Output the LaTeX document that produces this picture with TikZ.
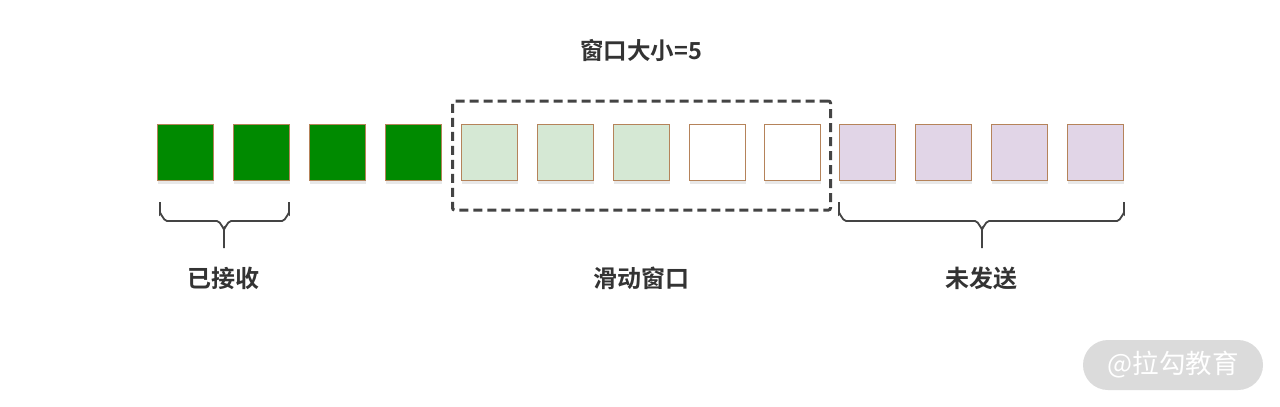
\documentclass[tikz,border=0pt]{standalone}
\usepackage{fontspec}
\setmainfont{Noto Sans CJK SC}
\newfontfamily\cjkb{Noto Sans CJK SC Bold}
\usetikzlibrary{shadows}
\definecolor{edge}{HTML}{B5835A}
\definecolor{dkgreen}{HTML}{008A00}
\definecolor{ltgreen}{HTML}{D5E8D4}
\definecolor{ltpurple}{HTML}{E1D5E7}
\definecolor{txt}{HTML}{333333}
\definecolor{brace}{HTML}{444444}
\begin{document}
\begin{tikzpicture}[x=1pt,y=-1pt,
  cell/.style={draw=edge,line width=1pt,minimum width=56pt,minimum height=56pt,inner sep=0pt,
    drop shadow={shadow xshift=1pt,shadow yshift=-3pt,opacity=0.18}},
  lbl/.style={font=\cjkb\fontsize{24}{28}\selectfont,text=txt},
  bracepath/.style={draw=brace,line width=1.8pt}]
\useasboundingbox (0,0) rectangle (1280,407);
\fill[white] (0,0) rectangle (1280,407);
\node[lbl,font=\cjkb\fontsize{23.5}{28}\selectfont] (title) at (641,50) {窗口大小=5};
% squares
\foreach \i/\x/\c in {1/185/dkgreen,2/261/dkgreen,3/337/dkgreen,4/413/dkgreen,
  5/489/ltgreen,6/565/ltgreen,7/641/ltgreen,8/717/white,9/792/white,
  10/867/ltpurple,11/943/ltpurple,12/1019/ltpurple,13/1095/ltpurple}
  \node[cell,fill=\c] (s\i) at (\x,152.5) {};
% dashed window
\node[draw=brace,line width=3pt,dash pattern=on 9pt off 5pt,rounded corners=2pt,
  minimum width=378pt,minimum height=109pt,inner sep=0pt] (win) at (641.5,155.5) {};
% left brace
\draw[bracepath] (160,202) -- (160,214) to[out=90,in=180] (167,221) -- (217,221) to[out=0,in=-90] (224,228) -- (224,248);
\draw[bracepath] (289,202) -- (289,214) to[out=90,in=0] (282,221) -- (231,221) to[out=180,in=-90] (224,228);
% right brace
\draw[bracepath] (839,202) -- (839,214) to[out=90,in=180] (846,221) -- (975,221) to[out=0,in=-90] (982,228) -- (982,248);
\draw[bracepath] (1124,202) -- (1124,214) to[out=90,in=0] (1117,221) -- (989,221) to[out=180,in=-90] (982,228);
\node[lbl] (l1) at (223,278) {已接收};
\node[lbl] (l2) at (641,278) {滑动窗口};
\node[lbl] (l3) at (981,278) {未发送};
% watermark
\node[fill=black!14,rounded corners=25pt,minimum width=180pt,minimum height=50pt,
  text=white,font=\fontsize{26.5}{30}\selectfont] (wm) at (1173,365) {@拉勾教育};
\end{tikzpicture}
\end{document}
